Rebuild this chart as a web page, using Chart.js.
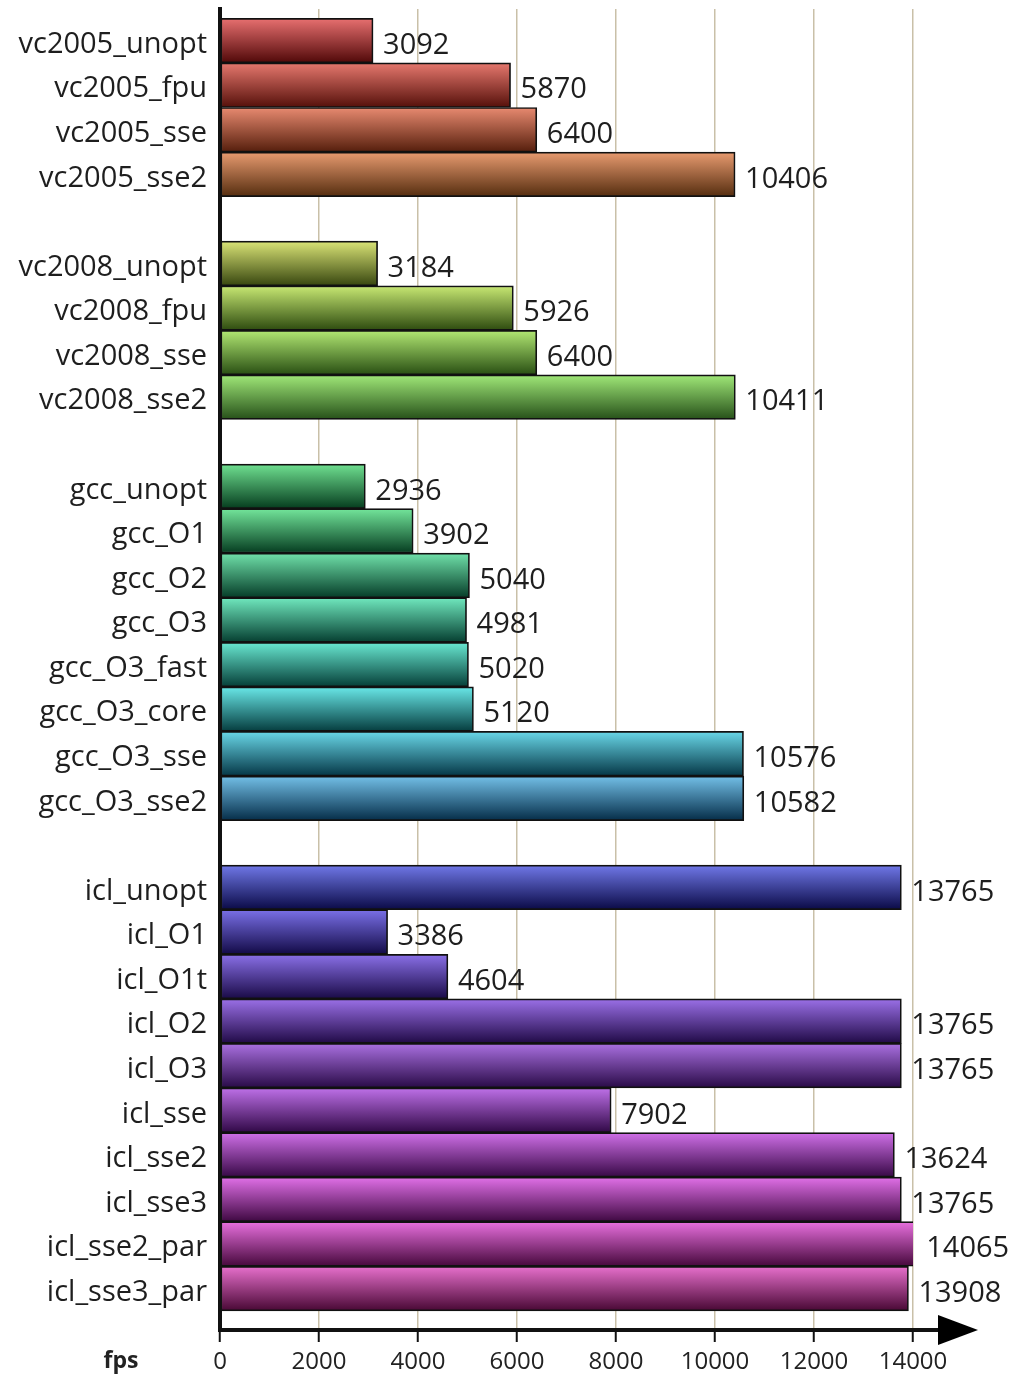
<!DOCTYPE html>
<html>
<head>
<meta charset="utf-8">
<script src="https://cdn.jsdelivr.net/npm/chart.js@4.4.1/dist/chart.umd.min.js"></script>
<style>
  html, body { margin: 0; padding: 0; background: #ffffff; }
  #wrap { width: 1010px; height: 1377px; position: relative; }
</style>
</head>
<body>
<div id="wrap"><canvas id="c"></canvas></div>
<script>
// ---- data (rows top to bottom; '' / null = spacer row between groups) ----
const categories = [
  'vc2005_unopt', 'vc2005_fpu', 'vc2005_sse', 'vc2005_sse2', '',
  'vc2008_unopt', 'vc2008_fpu', 'vc2008_sse', 'vc2008_sse2', '',
  'gcc_unopt', 'gcc_O1', 'gcc_O2', 'gcc_O3', 'gcc_O3_fast', 'gcc_O3_core', 'gcc_O3_sse', 'gcc_O3_sse2', '',
  'icl_unopt', 'icl_O1', 'icl_O1t', 'icl_O2', 'icl_O3', 'icl_sse', 'icl_sse2', 'icl_sse3', 'icl_sse2_par', 'icl_sse3_par'
];
const fpsValues = [
  3092, 5870, 6400, 10406, null,
  3184, 5926, 6400, 10411, null,
  2936, 3902, 5040, 4981, 5020, 5120, 10576, 10582, null,
  13765, 3386, 4604, 13765, 13765, 7902, 13624, 13765, 14065, 13908
];
const xTickStep = 2000;
const xMax = 14000;

// ---- styles (gradient top / bottom colour per row) ----
const topColors = [
  '#e87070', '#e6786e', '#e88a70', '#e89b70', null,
  '#dae476', '#c8e873', '#b2e873', '#a0e878', null,
  '#70e191', '#73e69b', '#70e1aa', '#70e8be', '#69e8d2', '#69e8e8', '#69d7e8', '#73c0e8', null,
  '#7078e8', '#7a70e8', '#8a70e8', '#9b70e8', '#aa70e1', '#be70e8', '#d070e8', '#e170e8', '#e870de', '#e870cd'
];
const bottomColors = [
  '#500808', '#55100a', '#551e0c', '#552d0f', null,
  '#37460f', '#2d4b0f', '#284e12', '#265019', null,
  '#053c1e', '#053c20', '#053c28', '#053e30', '#053e37', '#053c3e', '#053746', '#052d48', null,
  '#0a0a46', '#120a46', '#190a46', '#200a46', '#280a46', '#300846', '#370846', '#3e0841', '#46083c', '#480834'
];

const FONT = "'Open Sans', 'Noto Sans', sans-serif";
const points = [];
fpsValues.forEach((v, i) => { if (v !== null) points.push({ x: v, y: i }); });

const valueLabels = {
  id: 'valueLabels',
  afterDatasetsDraw(chart) {
    const ctx = chart.ctx;
    const meta = chart.getDatasetMeta(0);
    ctx.save();
    ctx.font = '500 29px ' + FONT;
    ctx.fillStyle = '#1e1e1e';
    ctx.textAlign = 'left';
    ctx.textBaseline = 'middle';
    meta.data.forEach((el, i) => {
      const raw = chart.data.datasets[0].data[i];
      ctx.fillText(String(raw.x), el.x + 10, el.y + 5);
    });
    ctx.restore();
  }
};

const axisDecor = {
  id: 'axisDecor',
  afterDraw(chart) {
    const ctx = chart.ctx;
    const y = chart.chartArea.bottom;
    const r = chart.chartArea.right;
    ctx.save();
    ctx.strokeStyle = '#111';
    ctx.lineWidth = 4;
    ctx.beginPath();
    ctx.moveTo(r - 2, y);
    ctx.lineTo(945, y);
    ctx.stroke();
    ctx.fillStyle = '#000';
    ctx.beginPath();
    ctx.moveTo(938, y - 15);
    ctx.lineTo(978, y);
    ctx.lineTo(938, y + 15);
    ctx.closePath();
    ctx.fill();
    // axis title
    ctx.font = 'bold 23px ' + FONT;
    ctx.fillStyle = '#222';
    ctx.textAlign = 'center';
    ctx.textBaseline = 'middle';
    ctx.fillText('fps', 121, 1361);
    ctx.restore();
  }
};

new Chart(document.getElementById('c'), {
  type: 'bar',
  data: {
    datasets: [{
      data: points,
      barPercentage: 1.0,
      categoryPercentage: 1.0,
      borderColor: '#111',
      borderWidth: 1.7,
      borderSkipped: false,
      backgroundColor: (ctx) => {
        const chart = ctx.chart;
        const ys = chart.scales.y;
        if (!ys || ctx.type !== 'data' || !ctx.raw) return '#888';
        const idx = ctx.raw.y;
        const yc = ys.getPixelForValue(idx);
        const h = Math.abs(ys.getPixelForValue(idx + 0.5) - yc);
        if (!isFinite(yc) || !isFinite(h) || h === 0) return topColors[idx];
        const g = chart.ctx.createLinearGradient(0, yc - h, 0, yc + h);
        g.addColorStop(0, topColors[idx]);
        g.addColorStop(1, bottomColors[idx]);
        return g;
      }
    }]
  },
  options: {
    indexAxis: 'y',
    responsive: true,
    maintainAspectRatio: false,
    animation: false,
    layout: { padding: { top: 9, right: 97, left: 0, bottom: 0 } },
    plugins: { legend: { display: false }, tooltip: { enabled: false } },
    scales: {
      x: {
        type: 'linear',
        position: 'bottom',
        min: 0,
        max: xMax,
        offset: false,
        afterFit(s) { s.height = 47; s.paddingLeft = 0; s.paddingRight = 0; },
        ticks: {
          stepSize: xTickStep,
          autoSkip: false,
          maxRotation: 0,
          color: '#222',
          padding: 6,
          font: { family: FONT, size: 24 },
          callback: (v) => String(v)
        },
        grid: {
          color: '#c9c0a8',
          lineWidth: 1.5,
          tickColor: '#111',
          tickLength: 12,
          tickWidth: 2,
          drawTicks: true
        },
        border: { display: true, color: '#111', width: 4 }
      },
      y: {
        type: 'linear',
        reverse: true,
        offset: false,
        min: -0.71,
        max: 28.93,
        afterFit(s) { s.width = 220; s.paddingTop = 0; s.paddingBottom = 0; },
        ticks: {
          stepSize: 1,
          includeBounds: false,
          autoSkip: false,
          maxTicksLimit: 100,
          padding: 13,
          labelOffset: 4,
          color: '#1e1e1e',
          font: { family: FONT, size: 29, weight: '500' },
          callback: (v) => Number.isInteger(v) ? categories[v] : ''
        },
        grid: { display: true, offset: false, color: 'rgba(0,0,0,0)', drawOnChartArea: false, drawTicks: false },
        border: { display: true, color: '#111', width: 4 }
      }
    }
  },
  plugins: [valueLabels, axisDecor]
});
</script>
</body>
</html>
